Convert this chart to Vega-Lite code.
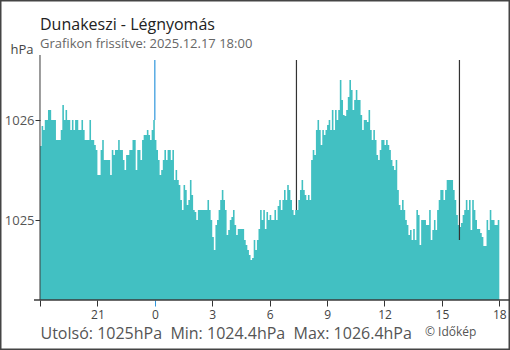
{
"$schema": "https://vega.github.io/schema/vega-lite/v6.json",
"width": 510, "height": 350, "autosize": {"type": "none"}, "padding": 0,
"background": "white",
"config": {"view": {"stroke": "#444444", "strokeWidth": 3}, "font": "Open Sans"},
"title": {"text": "Dunakeszi - Légnyomás", "subtitle": "Grafikon frissítve: 2025.12.17 18:00", "anchor": "start", "frame": "group", "dx": 40, "offset": -51, "fontSize": 16, "font": "Open Sans", "fontWeight": "normal", "color": "#222222", "subtitleFontSize": 13, "subtitleColor": "#666666", "subtitleFont": "Open Sans", "subtitlePadding": 5},
"layer": [
{"data": {"values": [
{"m":0,"p":1025.74},{"m":5,"p":1025.94},{"m":10,"p":1025.9},{"m":15,"p":1026},{"m":20,"p":1026},{"m":25,"p":1026.1},{"m":30,"p":1026.1},{"m":35,"p":1026},{"m":40,"p":1026},{"m":45,"p":1026},
{"m":50,"p":1025.8},{"m":55,"p":1025.8},{"m":60,"p":1025.8},{"m":65,"p":1025.9},{"m":70,"p":1026.15},{"m":75,"p":1026},{"m":80,"p":1026.1},{"m":85,"p":1026},{"m":90,"p":1026},{"m":95,"p":1025.9},
{"m":100,"p":1026},{"m":105,"p":1025.9},{"m":110,"p":1026},{"m":115,"p":1026},{"m":120,"p":1025.9},{"m":125,"p":1025.9},{"m":130,"p":1026},{"m":135,"p":1025.9},{"m":140,"p":1025.8},{"m":145,"p":1025.8},
{"m":150,"p":1025.8},{"m":155,"p":1026},{"m":160,"p":1025.8},{"m":165,"p":1025.8},{"m":170,"p":1025.75},{"m":175,"p":1025.7},{"m":180,"p":1025.45},{"m":185,"p":1025.45},{"m":190,"p":1025.7},{"m":195,"p":1025.8},
{"m":200,"p":1025.6},{"m":205,"p":1025.6},{"m":210,"p":1025.6},{"m":215,"p":1025.6},{"m":220,"p":1025.45},{"m":225,"p":1025.7},{"m":230,"p":1025.65},{"m":235,"p":1025.7},{"m":240,"p":1025.7},{"m":245,"p":1025.8},
{"m":250,"p":1025.7},{"m":255,"p":1025.7},{"m":260,"p":1025.6},{"m":265,"p":1025.5},{"m":270,"p":1025.65},{"m":275,"p":1025.65},{"m":280,"p":1025.7},{"m":285,"p":1025.7},{"m":290,"p":1025.8},{"m":295,"p":1025.8},
{"m":300,"p":1025.5},{"m":305,"p":1025.7},{"m":310,"p":1025.7},{"m":315,"p":1025.6},{"m":320,"p":1025.8},{"m":325,"p":1025.85},{"m":330,"p":1025.85},{"m":335,"p":1025.9},{"m":340,"p":1025.85},{"m":345,"p":1025.8},
{"m":350,"p":1025.9},{"m":355,"p":1026},{"m":360,"p":1025.8},{"m":365,"p":1025.7},{"m":370,"p":1025.6},{"m":375,"p":1025.45},{"m":380,"p":1025.5},{"m":385,"p":1025.6},{"m":390,"p":1025.7},{"m":395,"p":1025.6},
{"m":400,"p":1025.7},{"m":405,"p":1025.7},{"m":410,"p":1025.6},{"m":415,"p":1025.7},{"m":420,"p":1025.4},{"m":425,"p":1025.5},{"m":430,"p":1025.4},{"m":435,"p":1025.35},{"m":440,"p":1025.2},{"m":445,"p":1025.1},
{"m":450,"p":1025.35},{"m":455,"p":1025.3},{"m":460,"p":1025.15},{"m":465,"p":1025.2},{"m":470,"p":1025.4},{"m":475,"p":1025.25},{"m":480,"p":1025.1},{"m":485,"p":1025.08},{"m":490,"p":1025},{"m":495,"p":1025.1},
{"m":500,"p":1025.1},{"m":505,"p":1025.1},{"m":510,"p":1025.1},{"m":515,"p":1025.1},{"m":520,"p":1025.1},{"m":525,"p":1025.2},{"m":530,"p":1025.1},{"m":535,"p":1025},{"m":540,"p":1024.83},{"m":545,"p":1024.7},
{"m":550,"p":1024.95},{"m":555,"p":1025},{"m":560,"p":1025.1},{"m":565,"p":1025.2},{"m":570,"p":1025.3},{"m":575,"p":1025.2},{"m":580,"p":1025.1},{"m":585,"p":1024.85},{"m":590,"p":1024.9},{"m":595,"p":1025},
{"m":600,"p":1025.03},{"m":605,"p":1025.1},{"m":610,"p":1024.95},{"m":615,"p":1024.85},{"m":620,"p":1024.91},{"m":625,"p":1024.91},{"m":630,"p":1024.91},{"m":635,"p":1024.91},{"m":640,"p":1024.8},{"m":645,"p":1024.75},
{"m":650,"p":1024.7},{"m":655,"p":1024.65},{"m":660,"p":1024.6},{"m":665,"p":1024.62},{"m":670,"p":1024.8},{"m":675,"p":1024.7},{"m":680,"p":1024.8},{"m":685,"p":1024.91},{"m":690,"p":1025.1},{"m":695,"p":1025},
{"m":700,"p":1025.1},{"m":705,"p":1024.91},{"m":710,"p":1025.08},{"m":715,"p":1025},{"m":720,"p":1025.05},{"m":725,"p":1025},{"m":730,"p":1025},{"m":735,"p":1025.1},{"m":740,"p":1025},{"m":745,"p":1025.14},
{"m":750,"p":1025.2},{"m":755,"p":1025.1},{"m":760,"p":1025.2},{"m":765,"p":1025.3},{"m":770,"p":1025.2},{"m":775,"p":1025.35},{"m":780,"p":1025.3},{"m":785,"p":1025.2},{"m":790,"p":1025.1},{"m":795,"p":1025.05},
{"m":800,"p":1025.1},{"m":805,"p":1025.1},{"m":810,"p":1025.2},{"m":815,"p":1025.3},{"m":820,"p":1025.4},{"m":825,"p":1025.3},{"m":830,"p":1025.25},{"m":835,"p":1025.2},{"m":840,"p":1025.25},{"m":845,"p":1025.2},
{"m":850,"p":1025.6},{"m":855,"p":1025.7},{"m":860,"p":1025.65},{"m":865,"p":1025.9},{"m":870,"p":1026},{"m":875,"p":1025.9},{"m":880,"p":1025.75},{"m":885,"p":1025.9},{"m":890,"p":1025.85},{"m":895,"p":1025.9},
{"m":900,"p":1025.95},{"m":905,"p":1026},{"m":910,"p":1025.9},{"m":915,"p":1026.1},{"m":920,"p":1025.9},{"m":925,"p":1026.1},{"m":930,"p":1026},{"m":935,"p":1026.1},{"m":940,"p":1026.4},{"m":945,"p":1026.2},
{"m":950,"p":1026.05},{"m":955,"p":1026.04},{"m":960,"p":1026.1},{"m":965,"p":1026.23},{"m":970,"p":1026.4},{"m":975,"p":1026.3},{"m":980,"p":1026.1},{"m":985,"p":1026.2},{"m":990,"p":1026.3},{"m":995,"p":1026.2},
{"m":1000,"p":1026.2},{"m":1005,"p":1026.05},{"m":1010,"p":1025.9},{"m":1015,"p":1026},{"m":1020,"p":1026},{"m":1025,"p":1025.98},{"m":1030,"p":1026.1},{"m":1035,"p":1025.9},{"m":1040,"p":1025.8},{"m":1045,"p":1025.9},
{"m":1050,"p":1025.8},{"m":1055,"p":1025.65},{"m":1060,"p":1025.6},{"m":1065,"p":1025.7},{"m":1070,"p":1025.8},{"m":1075,"p":1025.8},{"m":1080,"p":1025.75},{"m":1085,"p":1025.8},{"m":1090,"p":1025.75},{"m":1095,"p":1025.7},
{"m":1100,"p":1025.6},{"m":1105,"p":1025.54},{"m":1110,"p":1025.5},{"m":1115,"p":1025.6},{"m":1120,"p":1025.3},{"m":1125,"p":1025.15},{"m":1130,"p":1025.1},{"m":1135,"p":1025.2},{"m":1140,"p":1025.1},{"m":1145,"p":1025},
{"m":1150,"p":1024.95},{"m":1155,"p":1024.85},{"m":1160,"p":1024.9},{"m":1165,"p":1024.8},{"m":1170,"p":1024.91},{"m":1175,"p":1024.8},{"m":1180,"p":1025.1},{"m":1185,"p":1025.05},{"m":1190,"p":1024.75},{"m":1195,"p":1025},
{"m":1200,"p":1025},{"m":1205,"p":1025},{"m":1210,"p":1024.95},{"m":1215,"p":1024.95},{"m":1220,"p":1025.1},{"m":1225,"p":1024.8},{"m":1230,"p":1024.9},{"m":1235,"p":1025},{"m":1240,"p":1024.9},{"m":1245,"p":1025.1},
{"m":1250,"p":1025.2},{"m":1255,"p":1025.3},{"m":1260,"p":1025.3},{"m":1265,"p":1025.2},{"m":1270,"p":1025.3},{"m":1275,"p":1025.4},{"m":1280,"p":1025.4},{"m":1285,"p":1025.4},{"m":1290,"p":1025.4},{"m":1295,"p":1025.3},
{"m":1300,"p":1025.2},{"m":1305,"p":1025.05},{"m":1310,"p":1024.95},{"m":1315,"p":1024.93},{"m":1320,"p":1024.97},{"m":1325,"p":1025.05},{"m":1330,"p":1025.1},{"m":1335,"p":1025.2},{"m":1340,"p":1025.1},{"m":1345,"p":1025.2},
{"m":1350,"p":1024.9},{"m":1355,"p":1025.2},{"m":1360,"p":1025.1},{"m":1365,"p":1025},{"m":1370,"p":1024.91},{"m":1375,"p":1024.91},{"m":1380,"p":1024.87},{"m":1385,"p":1024.83},{"m":1390,"p":1024.74},{"m":1395,"p":1024.74},
{"m":1400,"p":1025},{"m":1405,"p":1024.9},{"m":1410,"p":1025.1},{"m":1415,"p":1025},{"m":1420,"p":1025},{"m":1425,"p":1024.95},{"m":1430,"p":1024.95},{"m":1435,"p":1025},{"m":1440,"p":1025}
]},
"mark": {"type": "area", "interpolate": "step-after", "color": "#42c0c2"},
"encoding": {
"x": {"field": "m", "type": "quantitative", "scale": {"domain": [-125.4, 1473.5], "nice": false, "zero": false},
 "axis": {"values": [0,180,360,540,720,900,1080,1260,1440], "offset": -50, "domain": false, "grid": false, "tickSize": 6, "tickWidth": 1,
  "tickColor": {"condition": {"test": "datum.value == 360", "value": "#2f96dc"}, "value": "#333333"},
  "labelExpr": "datum.value == 0 ? '' : toString((datum.value / 60 + 18) % 24)", "labelFontSize": 12, "labelColor": "#444444", "labelPadding": 3, "labelFont": "Open Sans", "labelFlush": false, "labelOverlap": false,
  "title": "Utolsó: 1025hPa\u00a0 Min: 1024.4hPa\u00a0 Max: 1026.4hPa", "titleX": 40, "titleY": 38, "titleAlign": "left", "titleBaseline": "alphabetic", "titleFontSize": 16, "titleFontWeight": "normal", "titleColor": "#555555", "titleFont": "Open Sans"}},
"y": {"field": "p", "type": "quantitative", "scale": {"domain": [1023.7, 1027.2], "nice": false, "zero": false},
 "axis": {"values": [1025, 1026], "format": "d", "offset": -40, "domain": false, "grid": false, "tickSize": 5, "tickWidth": 1, "tickColor": "#333333", "labelFontSize": 13, "labelColor": "#555555", "labelPadding": 1, "labelFont": "Open Sans",
  "title": "hPa", "titleAngle": 0, "titleX": -30, "titleY": 53, "titleAlign": "left", "titleBaseline": "alphabetic", "titleFontSize": 13, "titleFontWeight": "normal", "titleColor": "#444444", "titleFont": "Open Sans"}},
"y2": {"datum": 1024.2}
}},
{"data": {"values": [{"m": 360, "p": 1026.0}]},
 "mark": {"type": "rule", "color": "#2f96dc", "strokeWidth": 1.2},
 "encoding": {"x": {"field": "m", "type": "quantitative"}, "y": {"field": "p", "type": "quantitative"}, "y2": {"datum": 1026.6}}},
{"data": {"values": [{"m": 804, "p": 1025.1}, {"m": 1315, "p": 1024.8}]},
 "mark": {"type": "rule", "color": "#333333", "strokeWidth": 1.2},
 "encoding": {"x": {"field": "m", "type": "quantitative"}, "y": {"field": "p", "type": "quantitative"}, "y2": {"datum": 1026.6}}},
{"data": {"values": [{"axis": "y"}]},
 "mark": {"type": "rule", "color": "#3a3a3a", "strokeWidth": 1},
 "encoding": {"x": {"datum": 0, "type": "quantitative"}, "y": {"datum": 1026.65, "type": "quantitative"}, "y2": {"datum": 1024.2}}},
{"data": {"values": [{"axis": "x"}]},
 "mark": {"type": "rule", "color": "#3a3a3a", "strokeWidth": 1.5},
 "encoding": {"x": {"datum": -18.8, "type": "quantitative"}, "x2": {"datum": 1473.5}, "y": {"datum": 1024.2, "type": "quantitative"}}},
{"data": {"values": [{"t": "© Időkép"}]},
 "mark": {"type": "text", "align": "left", "baseline": "alphabetic", "fontSize": 12, "color": "#555555", "font": "Open Sans"},
 "encoding": {"text": {"field": "t"}, "x": {"datum": 1207, "type": "quantitative"}, "y": {"datum": 1023.84, "type": "quantitative"}}}
]
}
